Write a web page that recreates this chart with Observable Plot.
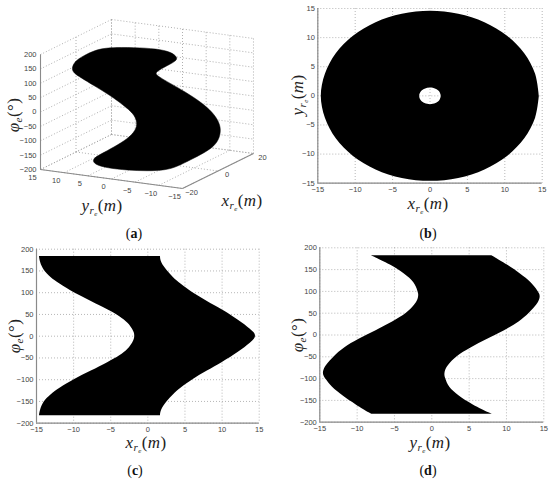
<!DOCTYPE html>
<html>
<head>
<meta charset="utf-8">
<script src="https://cdn.jsdelivr.net/npm/d3@7"></script>
<script src="https://cdn.jsdelivr.net/npm/@observablehq/plot@0.6"></script>
<style>
html,body{margin:0;padding:0;background:#fff;}
#page{position:relative;width:550px;height:482px;overflow:hidden;}
#page svg{position:absolute;background:transparent;}
.lab{position:absolute;font:italic 17px "Liberation Serif",serif;color:#222;white-space:nowrap;transform:translate(-50%,-50%);line-height:1;letter-spacing:.4px;}
.lab .up{font-style:normal;}
.lab sub{font-size:11px;vertical-align:-3px;line-height:0;}
.lab sub sub{font-size:7px;vertical-align:-2px;}
.rot{transform:translate(-50%,-50%) rotate(-90deg);}
.cap{position:absolute;font:14px "Liberation Serif",serif;color:#111;transform:translate(-50%,-50%);line-height:1;}
</style>
</head>
<body>
<div id="page"></div>
<script>
// ---------- shared ticks
const ticks15 = [-15,-10,-5,0,5,10,15];
const ticks200 = [-200,-150,-100,-50,0,50,100,150,200];

// ---------- panel (a): 3D view
const xTicks3d = [-20,0,20];
const yTicks3d = [15,10,5,0,-5,-10,-15];
const zTicks3d = ticks200;
// silhouette of the surface in view-plane units
const aU = [-75.5,-72.5,-64,-52,-38.2,-13.2,10.2,24,30.5,29.2,20.4,9,8.5,16.8,30.2,46.8,60.6,69.5,74,72.8,67.5,57,43.5,30.2,18.5,0.2,-19.8,-39.8,-52.5,-55,-46.5,-33.2,-19.6,-11.2,-9.5,-13.4,-23.2,-36.5,-53.2,-66.8,-73];
const aV = [35.2,42.5,48,54,56.6,56.6,55.2,52,46.8,43,38.5,32.3,29.5,24.2,16.8,6.8,-3.4,-13.2,-23.2,-33.6,-42,-49,-55.8,-62.6,-66.2,-67,-66.2,-64,-60.5,-55.2,-50.2,-43.2,-35,-26.5,-18.2,-9.6,-1.5,8.5,18.5,26.8,30.8];

// ---------- panel (b): annulus outline
const bOuterX = [14.55,14.05,12.6,10.3,7.28,3.77,0,-3.77,-7.28,-10.3,-12.6,-14.05,-14.6,-14.05,-12.6,-10.3,-7.28,-3.77,0,3.77,7.28,10.3,12.6,14.05,14.55];
const bOuterY = [0,3.78,7.3,10.32,12.64,14.1,14.6,14.1,12.64,10.32,7.3,3.78,0,-3.78,-7.3,-10.32,-12.64,-14.1,-14.6,-14.1,-12.64,-10.32,-7.3,-3.78,0];
const bInnerX = [1.45,1.26,0.73,0,-0.73,-1.26,-1.45,-1.26,-0.73,0,0.73,1.26,1.45];
const bInnerY = [0,-0.72,-1.24,-1.43,-1.24,-0.72,0,0.72,1.24,1.43,1.24,0.72,0];

// ---------- panel (c): x range at each heading
const cPhi   = [183,170,150,135,120,100,80,60,45,30,15,7,0,-7,-15,-30,-45,-60,-80,-100,-120,-135,-150,-170,-183];
const cLeft  = [-14.6,-14.5,-14,-13.1,-11.9,-10,-7.6,-5.3,-3.7,-2.6,-2,-1.8,-1.75,-1.8,-2,-2.6,-3.7,-5.3,-7.6,-10,-11.9,-13.1,-14,-14.5,-14.6];
const cRight = [1.7,1.75,2.6,3.4,4.4,6,8,10.1,11.5,12.8,13.9,14.4,14.55,14.4,13.9,12.8,11.5,10.1,8,6,4.4,3.4,2.6,1.75,1.7];

// ---------- panel (d): y range at each heading
const dPhi   = [182,160,140,120,100,94,88,80,70,50,30,10,-10,-30,-50,-70,-80,-88,-94,-100,-120,-140,-160,-182];
const dLeft  = [-8.1,-5.4,-3.6,-2.25,-1.85,-1.75,-1.75,-1.85,-2.2,-3.25,-5.2,-7.45,-9.8,-11.8,-13.1,-14.15,-14.45,-14.55,-14.45,-14.25,-13.4,-11.9,-10.2,-8.04];
const dRight = [8.04,10.2,11.9,13.4,14.25,14.45,14.55,14.45,14.15,13.1,11.8,9.8,7.45,5.2,3.25,2.2,1.85,1.75,1.75,1.85,2.25,3.6,5.4,8.1];

const GRID = "#9a9a9a", AXIS = "#8a8a8a", TXT = "#444", FS = 7.5;
const FONT = '"Liberation Sans",sans-serif';
const page = document.getElementById("page");

function flat(xTicks, yTicks, xDom, yDom, marks, geom) {
  const svg = Plot.plot({
    width: 275, height: 240,
    marginLeft: geom.ml, marginRight: geom.mr, marginTop: geom.mt, marginBottom: geom.mb,
    style: {background: "transparent", fontFamily: FONT, fontSize: FS + "px"},
    x: {domain: xDom, axis: null},
    y: {domain: yDom, axis: null},
    marks: [
      Plot.gridX(xTicks, {stroke: GRID, strokeOpacity: 0.9, strokeDasharray: "1,2", strokeWidth: 0.8}),
      Plot.gridY(yTicks, {stroke: GRID, strokeOpacity: 0.9, strokeDasharray: "1,2", strokeWidth: 0.8}),
      ...marks,
      Plot.ruleX([xDom[0]], {stroke: AXIS, strokeWidth: 1.2}),
      Plot.ruleY([yDom[0]], {stroke: AXIS, strokeWidth: 1.2}),
      Plot.axisX(xTicks, {anchor: "bottom", label: null, tickSize: 0, tickPadding: 3.5, color: TXT, fontSize: FS, fontFamily: FONT}),
      Plot.axisY(yTicks, {anchor: "left", label: null, tickSize: 0, tickPadding: 3, color: TXT, fontSize: FS, fontFamily: FONT})
    ]
  });
  svg.style.left = geom.left + "px";
  svg.style.top = geom.top + "px";
  page.appendChild(svg);
}

// ---- panel (a)
const ex = [1.775, 0.875], ey = [-4.733, 0.633], ez = [0, 0.2875];
const proj = (x, y, z) => [x*ex[0] + y*ey[0] + z*ez[0], x*ex[1] + y*ey[1] + z*ez[1]];
const seg = (a, b) => { const p = proj(...a), q = proj(...b); return {x1: p[0], y1: p[1], x2: q[0], y2: q[1]}; };

const gridSegs = [];
for (const z of zTicks3d) {
  gridSegs.push(seg([-20,15,z],[20,15,z]));
  gridSegs.push(seg([20,15,z],[20,-15,z]));
}
for (const y of yTicks3d) {
  gridSegs.push(seg([20,y,-200],[20,y,200]));
  gridSegs.push(seg([-20,y,-200],[20,y,-200]));
}
for (const x of xTicks3d) {
  gridSegs.push(seg([x,15,-200],[x,15,200]));
  gridSegs.push(seg([x,15,-200],[x,-15,-200]));
}
const axisSegs = [
  seg([-20,15,-200],[-20,15,200]),
  seg([-20,15,-200],[-20,-15,-200]),
  seg([-20,-15,-200],[20,-15,-200])
];
const at = (x, y, z, text) => { const p = proj(x, y, z); return {u: p[0], v: p[1], text}; };
const fmt = d => String(d).replace("-", "\u2212");
const zLabels = zTicks3d.map(z => at(-20,15,z,fmt(z)));
const yLabels = yTicks3d.map(y => at(-20,y,-200,fmt(y)));
const xLabels = xTicks3d.map(x => at(x,-15,-200,fmt(x)));
const aOutline = aU.map((u,i) => ({u, v: aV[i]}));

const svgA = Plot.plot({
  width: 275, height: 240, margin: 0,
  style: {background: "transparent", fontFamily: FONT, fontSize: FS + "px"},
  x: {domain: [-146.5, 128.5], range: [0, 275], axis: null},
  y: {domain: [103.5, -136.5], range: [0, 240], axis: null},
  marks: [
    Plot.link(gridSegs, {x1: "x1", y1: "y1", x2: "x2", y2: "y2", stroke: GRID, strokeWidth: 0.8, strokeDasharray: "1,2"}),
    Plot.line(aOutline, {x: "u", y: "v", fill: "#000", stroke: "#000", strokeWidth: 0.5, curve: "basis-closed"}),
    Plot.link(axisSegs, {x1: "x1", y1: "y1", x2: "x2", y2: "y2", stroke: AXIS, strokeWidth: 1.1}),
    Plot.text(zLabels, {x: "u", y: "v", text: "text", textAnchor: "end", dx: -4, fill: TXT, fontSize: FS, fontFamily: FONT}),
    Plot.text(yLabels, {x: "u", y: "v", text: "text", dx: -8, dy: 8, fill: TXT, fontSize: FS, fontFamily: FONT}),
    Plot.text(xLabels, {x: "u", y: "v", text: "text", dx: 9, dy: 4, fill: TXT, fontSize: FS, fontFamily: FONT})
  ]
});
svgA.style.left = "0px"; svgA.style.top = "0px";
page.appendChild(svgA);

// ---- panel (b)
const bPts = [
  ...bOuterX.map((x,i) => ({x, y: bOuterY[i]})),
  {x: NaN, y: NaN},
  ...bInnerX.map((x,i) => ({x, y: bInnerY[i]}))
];
flat(ticks15, ticks15, [-15,15], [-15,15], [
  Plot.line(bPts, {x: "x", y: "y", fill: "#000", stroke: "none", curve: "catmull-rom"})
], {left: 275, top: 0, ml: 42.3, mr: 8.3, mt: 8, mb: 57.3});

// ---- panel (c)
flat(ticks15, ticks200, [-15,15], [-200,200], [
  Plot.areaX(cPhi.map((p,i) => ({p, a: cLeft[i], b: cRight[i]})), {y: "p", x1: "a", x2: "b", fill: "#000", curve: "basis"})
], {left: 0, top: 240, ml: 36, mr: 16.3, mt: 8.7, mb: 57.3});

// ---- panel (d)
flat(ticks15, ticks200, [-15,15], [-200,200], [
  Plot.areaX(dPhi.map((p,i) => ({p, a: dLeft[i], b: dRight[i]})), {y: "p", x1: "a", x2: "b", fill: "#000", curve: "basis"})
], {left: 275, top: 240, ml: 44.3, mr: 6.7, mt: 7.3, mb: 58.3});

// ---- axis titles and captions
const xLab = '<i>x<sub>r<sub>e</sub></sub></i><span class="up">(</span><i>m</i><span class="up">)</span>';
const yLab = '<i>y<sub>r<sub>e</sub></sub></i><span class="up">(</span><i>m</i><span class="up">)</span>';
const phiLab = '<i>\u03C6<sub>e</sub></i><span class="up">(\u00B0)</span>';
const labels = [
  [xLab, 242, 200, false],
  [yLab, 102, 205, false],
  [phiLab, 13, 115, true],
  [xLab, 428, 203, false],
  [yLab, 297, 95, true],
  [xLab, 146, 442, false],
  [phiLab, 14, 336, true],
  [yLab, 430, 442, false],
  [phiLab, 297, 335, true]
];
for (const [html, l, t, rot] of labels) {
  const d = document.createElement("div");
  d.className = "lab" + (rot ? " rot" : "");
  d.style.left = l + "px"; d.style.top = t + "px";
  d.innerHTML = html;
  page.appendChild(d);
}
const captions = [["a",134,234],["b",428,234],["c",135,471],["d",428,471]];
for (const [c, l, t] of captions) {
  const d = document.createElement("div");
  d.className = "cap";
  d.style.left = l + "px"; d.style.top = t + "px";
  d.innerHTML = "(<b>" + c + "</b>)";
  page.appendChild(d);
}
</script>
</body>
</html>
